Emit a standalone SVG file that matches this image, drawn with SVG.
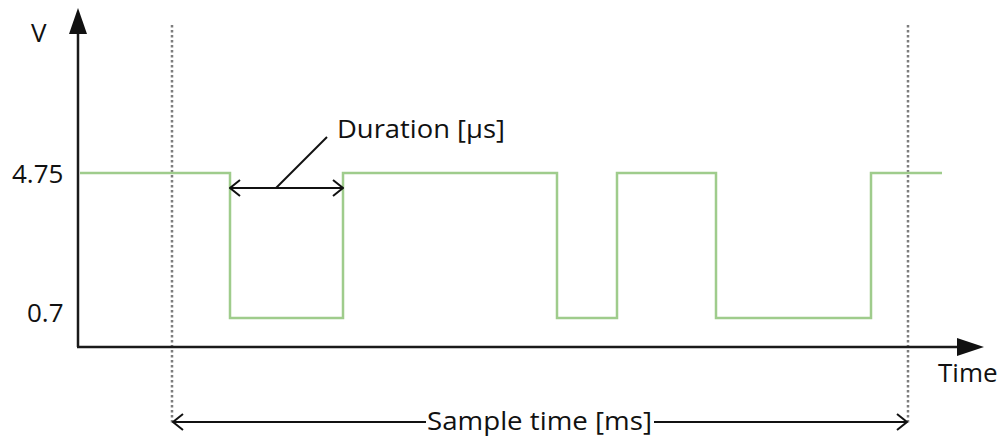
<svg xmlns="http://www.w3.org/2000/svg" width="1003" height="439" viewBox="0 0 1003 439">
  <style>
    .lbl { font-family: "Open Sans", "Liberation Sans", sans-serif; font-size: 26px; fill: #111; }
    .axis { stroke: #1a1a1a; stroke-width: 2.5; fill: none; }
    .guide { stroke: #7d7d7d; stroke-width: 2.5; stroke-dasharray: 2.5 2.5; fill: none; }
    .sig { stroke: #9fcc8c; stroke-width: 2.5; fill: none; }
    .dim { stroke: #111; stroke-width: 2; fill: none; }
  </style>
  <defs>
    <marker id="open" viewBox="0 0 12 18" refX="11" refY="9" markerWidth="12" markerHeight="18" markerUnits="userSpaceOnUse" orient="auto-start-reverse">
      <path d="M1,1 L11,9 L1,17" fill="none" stroke="#111" stroke-width="2"/>
    </marker>
  </defs>
  <rect width="1003" height="439" fill="#fff"/>

  <!-- sample window guides -->
  <g id="guides">
    <line class="guide" x1="172" y1="25" x2="172" y2="424"/>
    <line class="guide" x1="908" y1="25" x2="908" y2="424"/>
  </g>

  <!-- axes -->
  <g id="axes">
    <line class="axis" x1="78" y1="30" x2="78" y2="347"/>
    <line class="axis" x1="77" y1="347" x2="960" y2="347"/>
    <polygon points="78,8 69,34 87,34" fill="#111"/>
    <polygon points="984,347 957,338 957,356" fill="#111"/>
    <text class="lbl" x="31" y="42">V</text>
    <text class="lbl" x="12" y="183">4.75</text>
    <text class="lbl" x="27" y="322">0.7</text>
    <text class="lbl" x="938" y="382">Time</text>
  </g>

  <!-- signal -->
  <g id="signal">
    <polyline class="sig" points="80,173 230,173 230,318 343,318 343,173 557,173 557,318 617,318 617,173 716,173 716,318 871,318 871,173 942,173"/>
  </g>

  <!-- dimension connectors -->
  <g id="connectors">
    <line class="dim" x1="230" y1="188" x2="343" y2="188" marker-start="url(#open)" marker-end="url(#open)"/>
    <line class="dim" x1="276" y1="188" x2="327" y2="137"/>
    <line class="dim" x1="173" y1="422" x2="426" y2="422" marker-start="url(#open)"/>
    <line class="dim" x1="654" y1="422" x2="907" y2="422" marker-end="url(#open)"/>
  </g>

  <g id="duration-label">
    <text class="lbl" x="337" y="138" font-size="25" textLength="168" lengthAdjust="spacingAndGlyphs">Duration [µs]</text>
  </g>
  <g id="sample-label">
    <text class="lbl" x="427" y="430" font-size="25" textLength="225" lengthAdjust="spacingAndGlyphs">Sample time [ms]</text>
  </g>
</svg>
